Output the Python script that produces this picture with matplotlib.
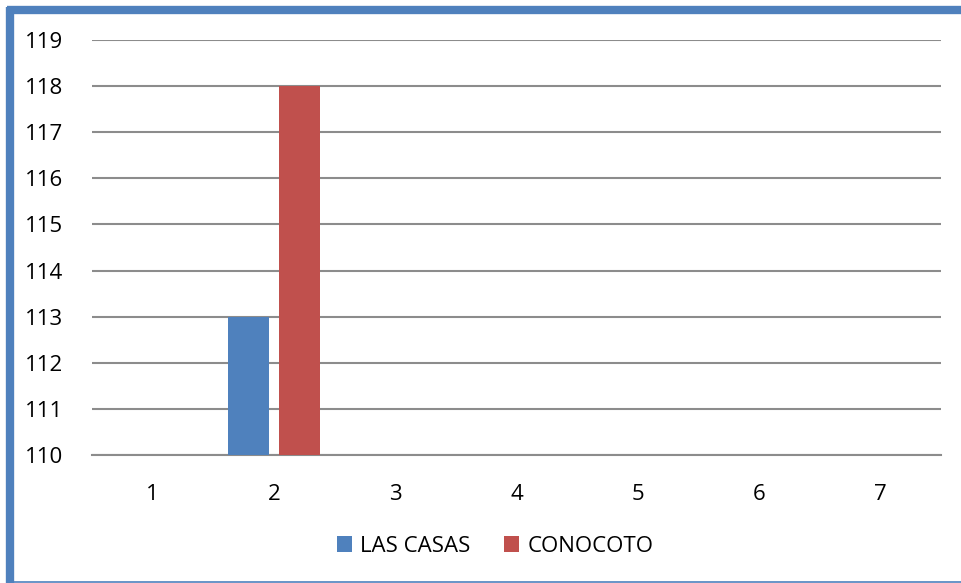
import matplotlib
matplotlib.use("Agg")
import matplotlib.pyplot as plt
import numpy as np
from matplotlib.lines import Line2D
from matplotlib.patches import Patch

categories = ["1", "2", "3", "4", "5", "6", "7"]
las_casas = [np.nan, 113, np.nan, np.nan, np.nan, np.nan, np.nan]
conocoto = [np.nan, 118, np.nan, np.nan, np.nan, np.nan, np.nan]
series_names = ["LAS CASAS", "CONOCOTO"]
colors = ["#4F81BD", "#C0504D"]
yticks = [110, 111, 112, 113, 114, 115, 116, 117, 118, 119]

plt.rcParams['font.family'] = ['Open Sans', 'DejaVu Sans']

W, H = 961, 583
fig = plt.figure(figsize=(W / 100, H / 100), dpi=100)
ax = fig.add_axes([92 / W, 1 - 455 / H, (941 - 92) / W, (455 - 40) / H])

x = np.arange(len(categories))
bw = 0.338
off = 0.21
base = 110
ax.bar(x - off, np.array(las_casas) - base, bw, bottom=base, color=colors[0], zorder=3)
ax.bar(x + off, np.array(conocoto) - base, bw, bottom=base, color=colors[1], zorder=3)

ax.set_xlim(-0.5, len(categories) - 0.5)
ax.set_ylim(110, 119)
ax.set_yticks(yticks)
ax.set_xticks(x)
ax.set_xticklabels(categories)
ax.tick_params(axis='both', length=0, labelsize=16, colors='black')
ax.tick_params(axis='y', pad=21)
ax.tick_params(axis='x', pad=21)
ax.yaxis.grid(True, color='#8c8c8c', linewidth=1.5, zorder=0)
for s in ['top', 'right', 'left']:
    ax.spines[s].set_visible(False)
ax.spines['bottom'].set_color('#8c8c8c')
ax.spines['bottom'].set_linewidth(1.5)

handles = [Patch(facecolor=c, edgecolor='none') for c in colors]
fig.legend(handles, series_names, loc='center', bbox_to_anchor=(495 / W, 1 - 546 / H),
           ncol=2, frameon=False, fontsize=16, handlelength=0.7, handleheight=0.7,
           handletextpad=0.35, columnspacing=1.5)

# outer blue frame
border = '#4F81BD'
fig.add_artist(Line2D([10 / W, 10 / W], [0, 1 - 7 / H], color=border, linewidth=6,
                      transform=fig.transFigure, solid_capstyle='butt'))
fig.add_artist(Line2D([7 / W, 1], [1 - 10 / H, 1 - 10 / H], color=border, linewidth=6,
                      transform=fig.transFigure, solid_capstyle='butt'))
fig.add_artist(Line2D([7 / W, 1], [1 / H, 1 / H], color=border, linewidth=1.2,
                      transform=fig.transFigure, solid_capstyle='butt'))

fig.savefig("out.png", dpi=100)
